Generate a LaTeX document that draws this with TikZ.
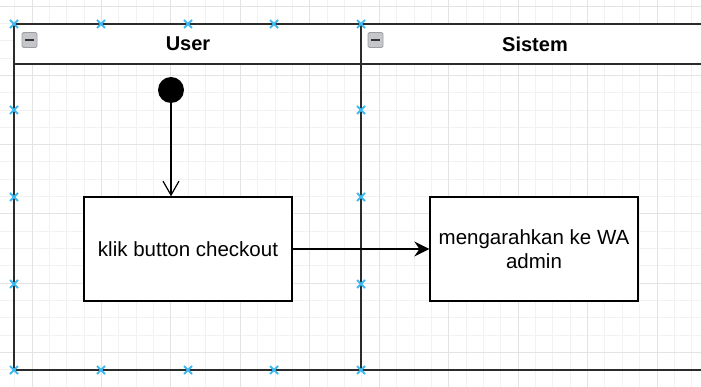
\documentclass[tikz,border=0pt]{standalone}
\usepackage{fontspec}
\setmainfont{Liberation Sans}
\usetikzlibrary{arrows.meta}
\definecolor{minorgrid}{HTML}{F2F2F2}
\definecolor{majorgrid}{HTML}{E3E3E3}
\definecolor{poolline}{HTML}{2B2B2B}
\definecolor{handleblue}{HTML}{3DB8F0}
\definecolor{icongray}{HTML}{C4C6C9}
\definecolor{iconedge}{HTML}{9A9EA3}
\tikzset{
  gridminor/.style={draw=minorgrid, line width=0.8pt},
  gridmajor/.style={draw=majorgrid, line width=0.9pt},
  poolstroke/.style={draw=poolline, line width=1.8pt},
  lanetitle/.style={font=\fontsize{20}{24}\selectfont\bfseries, text=black, inner sep=0pt},
  actbox/.style={draw=black, line width=1.3pt, fill=white, minimum width=208pt, minimum height=104pt,
    align=center, inner sep=2pt, font=\fontsize{20.5}{24.6}\selectfont, text=black},
  startdot/.style={circle, fill=black, minimum size=26pt, inner sep=0pt},
  flowopen/.style={draw=black, line width=1.2pt, -{Straight Barb[length=14pt,width=16pt,line width=1.2pt]}},
  flowsolid/.style={draw=black, line width=1.4pt, -{Stealth[length=15pt,width=15pt,inset=5pt]}},
  handlemark/.style={draw=handleblue, line width=1.8pt},
  collapseicon/.style={draw=iconedge, fill=icongray, rounded corners=1.5pt, minimum size=15pt, inner sep=0pt, line width=0.8pt}
}
\begin{document}
\begin{tikzpicture}[x=1pt,y=-1pt]
\useasboundingbox (0,0) rectangle (701,387);
\fill[white] (0,0) rectangle (701,387);
% grid
\foreach \k in {0,...,41} \draw[gridminor] ({-2.72+17.36*\k},0) -- ++(0,387);
\foreach \k in {0,...,24} \draw[gridminor] (0,{-11.32+17.32*\k}) -- ++(701,0);
\foreach \k in {0,...,10} \draw[gridmajor] ({32+69.44*\k},0) -- ++(0,387);
\foreach \k in {0,...,5} \draw[gridmajor] (0,{6+69.3*\k}) -- ++(701,0);
% pool / lanes
\fill[white] (14,24) rectangle (701,64);
\coordinate (tl) at (14,24);
\coordinate (tr) at (701,24);
\coordinate (hl) at (14,64);
\coordinate (hr) at (701,64);
\coordinate (bl) at (14,370);
\coordinate (br) at (701,370);
\coordinate (dt) at (361,24);
\coordinate (db) at (361,370);
\draw[poolstroke] (tl) -- (tr) (hl) -- (hr) (bl) -- (br) (tl) -- (bl) (dt) -- (db);
\node[lanetitle] (usertitle) at (188,44) {User};
\node[lanetitle] (sistemtitle) at (535,44) {Sistem};
\node[collapseicon] (icon1) at (29.5,40) {};
\node[collapseicon] (icon2) at (375.5,40) {};
\draw[black!80, line width=1.4pt] ([xshift=-4.5pt]icon1.center) -- ([xshift=4.5pt]icon1.center);
\draw[black!80, line width=1.4pt] ([xshift=-4.5pt]icon2.center) -- ([xshift=4.5pt]icon2.center);
% nodes
\node[startdot] (start) at (171,90) {};
\node[actbox] (klik) at (188,249) {klik button checkout};
\node[actbox] (wa) at (534,249) {mengarahkan ke WA\\admin};
% connectors
\draw[flowopen] (start) -- (start |- klik.north);
\draw[flowsolid] (klik) -- (wa);
% selection handles
\foreach \hx/\hy in {14/24,101/24,188/24,274/24,361/24,14/110,14/197,14/284,361/110,361/197,361/284,14/370,101/370,188/370,274/370,361/370}
  \draw[handlemark] (\hx-4,\hy-4) -- (\hx+4,\hy+4) (\hx-4,\hy+4) -- (\hx+4,\hy-4);
\end{tikzpicture}
\end{document}
